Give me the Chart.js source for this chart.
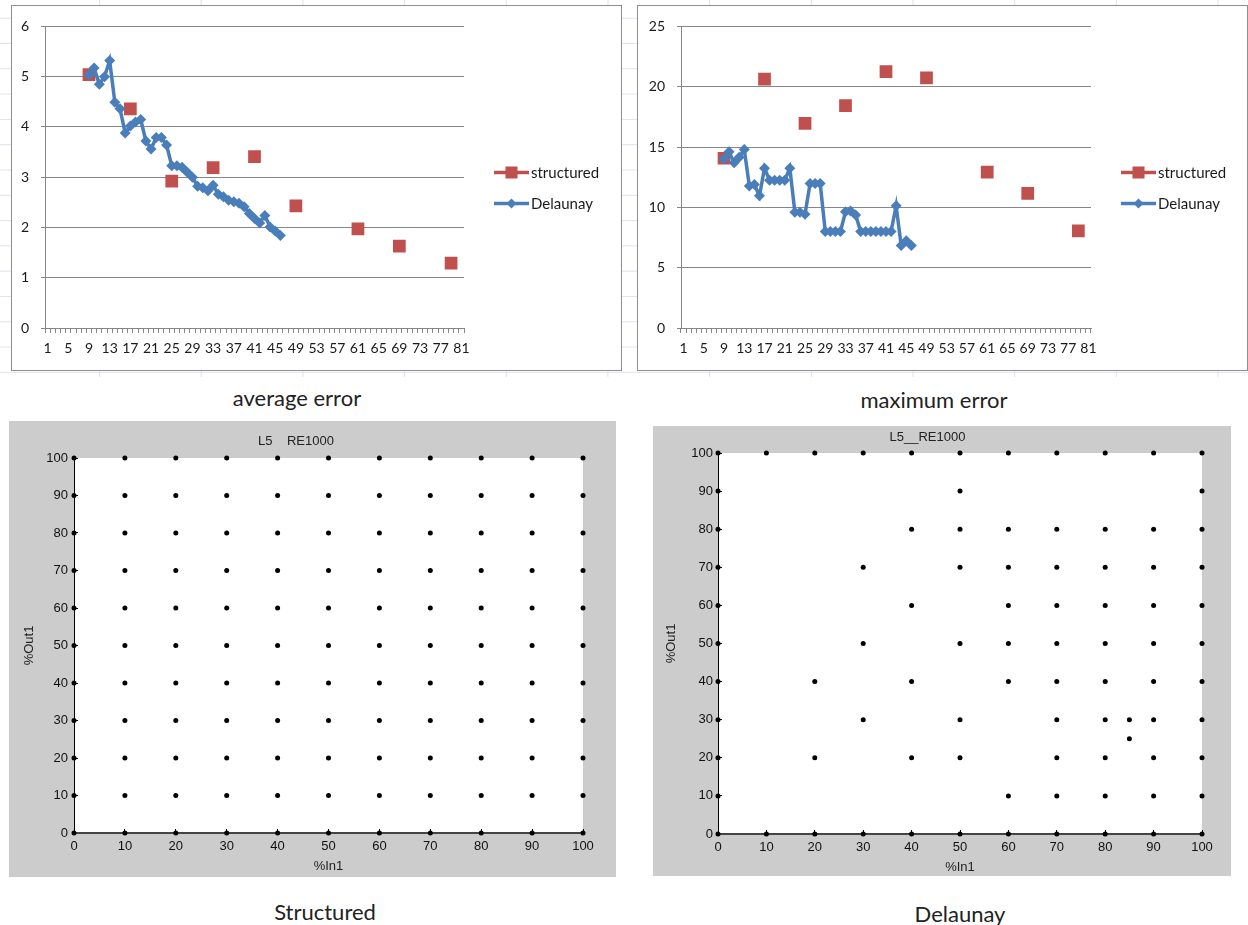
<!DOCTYPE html>
<html>
<head>
<meta charset="utf-8">
<script src="https://cdn.jsdelivr.net/npm/chart.js@4.4.1/dist/chart.umd.min.js"></script>
<style>
html,body{margin:0;padding:0;background:#fff;}
body{width:1248px;height:925px;position:relative;overflow:hidden;font-family:Lato,sans-serif;}
#sheet{position:absolute;left:0;top:0;width:1248px;height:377px;
  background-image:linear-gradient(to right,#dde2ec 1px,transparent 1px),linear-gradient(to bottom,#dde2ec 1px,transparent 1px);
  background-size:101.7px 25.3px;background-position:99px 17.7px;}
.frame{position:absolute;box-sizing:border-box;border:1px solid #8e8e8e;background:#fff;}
.frame .inner{position:absolute;left:0;top:0;right:0;bottom:0;}
.gray{position:absolute;background:#cccccc;}
.cap{position:absolute;font-family:Lato,sans-serif;font-size:22px;color:#222;transform:translate(-50%,-50%);white-space:nowrap;}
</style>
</head>
<body>
<div id="sheet"></div>
<div class="frame" style="left:11px;top:5px;width:611px;height:366px;"><div class="inner"><canvas id="avgChart"></canvas></div></div>
<div class="frame" style="left:637px;top:5px;width:611px;height:366px;"><div class="inner"><canvas id="maxChart"></canvas></div></div>
<div class="cap" style="left:297px;top:397px;">average error</div>
<div class="cap" style="left:934px;top:399px;">maximum error</div>
<div class="gray" style="left:9px;top:421px;width:607px;height:456px;"><canvas id="structGrid"></canvas></div>
<div class="gray" style="left:653px;top:426px;width:578px;height:450px;"><canvas id="delGrid"></canvas></div>
<div class="cap" style="left:325px;top:911px;">Structured</div>
<div class="cap" style="left:960px;top:913px;">Delaunay</div>
<script>
// ---------- data ----------
const categories = [1,2,3,4,5,6,7,8,9,10,11,12,13,14,15,16,17,18,19,20,21,22,23,24,25,26,27,28,29,30,31,32,33,34,35,36,37,38,39,40,41,42,43,44,45,46,47,48,49,50,51,52,53,54,55,56,57,58,59,60,61,62,63,64,65,66,67,68,69,70,71,72,73,74,75,76,77,78,79,80,81];
const xTickLabels = [1,5,9,13,17,21,25,29,33,37,41,45,49,53,57,61,65,69,73,77,81];

const structuredN = [9,17,25,33,41,49,61,69,79];
const structuredAvgError = [5.04,4.36,2.92,3.19,3.41,2.43,1.97,1.63,1.29];
const structuredMaxError = [14.07,20.63,16.97,18.44,21.26,20.74,12.92,11.15,8.06];

const delaunayN = [9,10,11,12,13,14,15,16,17,18,19,20,21,22,23,24,25,26,27,28,29,30,31,32,33,34,35,36,37,38,39,40,41,42,43,44,45,46];
const delaunayAvgError = [5.04,5.17,4.85,5.0,5.32,4.49,4.36,3.88,4.02,4.10,4.15,3.72,3.56,3.79,3.79,3.64,3.23,3.23,3.2,3.1,3.0,2.82,2.79,2.73,2.84,2.66,2.61,2.54,2.51,2.48,2.41,2.28,2.18,2.09,2.24,2.01,1.93,1.84];
const delaunayMaxError = [14.0,14.6,13.7,14.15,14.8,11.78,11.9,10.96,13.25,12.24,12.24,12.24,12.24,13.25,9.59,9.59,9.43,11.97,11.97,11.97,8.0,8.0,8.0,8.0,9.64,9.7,9.37,8.0,8.0,8.0,8.0,8.0,8.0,8.0,10.14,6.83,7.24,6.83];

const structuredGridX = [0,10,20,30,40,50,60,70,80,90,100];
const structuredGridY = [0,10,20,30,40,50,60,70,80,90,100];

const delaunayRowY = [100,90,80,70,60,50,40,30,25,20,10,0];
const delaunayRowX = [
  [0,10,20,30,40,50,60,70,80,90,100],
  [0,50,100],
  [0,40,50,60,70,80,90,100],
  [0,30,50,60,70,80,90,100],
  [0,40,60,70,80,90,100],
  [0,30,50,60,70,80,90,100],
  [0,20,40,60,70,80,90,100],
  [0,30,50,70,80,85,90,100],
  [85],
  [0,20,40,50,70,80,90,100],
  [0,60,70,80,90,100],
  [0,10,20,30,40,50,60,70,80,90,100]
];

// ---------- styles ----------
const RED = '#C0504D';
const BLUE = '#4A7EBB';
const AXIS_GRAY = '#868686';
const EXCEL_FONT = {family:'Lato', size:14};
const MAT_FONT = {family:'Liberation Sans', size:13, weight:'normal'};

Chart.defaults.animation = false;

const excelLegend = {
  id:'excelLegend',
  afterDraw(chart){
    const ctx = chart.ctx;
    const a = chart.chartArea;
    const x0 = a.right + 30;
    const lineW = 35;
    const cy = chart.height / 2;
    const rows = [cy - 15.5, cy + 15.5];
    chart.data.datasets.forEach((ds, i) => {
      const y = rows[i];
      ctx.save();
      ctx.strokeStyle = ds.borderColor;
      ctx.lineWidth = 3.5;
      ctx.beginPath();
      ctx.moveTo(x0, y);
      ctx.lineTo(x0 + lineW, y);
      ctx.stroke();
      ctx.fillStyle = ds.backgroundColor;
      Chart.helpers.drawPoint(ctx, {pointStyle: ds.pointStyle, radius: ds.legendRadius, rotation:0, borderWidth:0}, x0 + lineW/2, y);
      ctx.fillStyle = '#1a1a1a';
      ctx.font = '15px Lato';
      ctx.textBaseline = 'middle';
      ctx.textAlign = 'left';
      ctx.fillText(ds.label, x0 + lineW + 2, y + 1);
      ctx.restore();
    });
  }
};

function excelChart(id, structuredVals, delaunayVals, yMax, yStep, yAxisWidth, padRight) {
  const structuredPts = structuredN.map((n, i) => ({x:n, y:structuredVals[i]}));
  const delaunayPts = delaunayN.map((n, i) => ({x:n, y:delaunayVals[i]}));
  new Chart(document.getElementById(id), {
    type:'line',
    data:{
      labels:categories,
      datasets:[
        {label:'structured', data:structuredPts, showLine:false, order:1,
         borderColor:RED, backgroundColor:RED, borderWidth:3,
         pointStyle:'rect', pointRadius:9, pointBorderWidth:0, legendRadius:8.5},
        {label:'Delaunay', data:delaunayPts, order:0, tension:0,
         borderColor:BLUE, backgroundColor:BLUE, borderWidth:3.5,
         pointStyle:'rectRot', pointRadius:5.5, pointBorderWidth:0, legendRadius:5}
      ]
    },
    options:{
      responsive:true, maintainAspectRatio:false, animation:false,
      layout:{padding:{left:0, top:17, right:padRight, bottom:0}},
      plugins:{legend:{display:false}, tooltip:{enabled:false}},
      scales:{
        x:{
          type:'category', offset:true,
          grid:{offset:true, drawOnChartArea:false, drawTicks:true, tickLength:5, color:AXIS_GRAY},
          border:{display:true, color:AXIS_GRAY},
          ticks:{autoSkip:false, maxRotation:0, minRotation:0, padding:7, font:EXCEL_FONT, color:'#1a1a1a',
            callback:function(v){ const l = this.getLabelForValue(v); return xTickLabels.includes(l) ? String(l) : ''; }},
          afterFit:(s) => { s.height = 42; }
        },
        y:{
          min:0, max:yMax,
          grid:{color:AXIS_GRAY, tickLength:4},
          border:{display:true, color:AXIS_GRAY},
          ticks:{stepSize:yStep, padding:12, font:EXCEL_FONT, color:'#1a1a1a'},
          afterFit:(s) => { s.width = yAxisWidth; }
        }
      }
    },
    plugins:[excelLegend]
  });
}

excelChart('avgChart', structuredAvgError, delaunayAvgError, 6, 1, 33, 157);
excelChart('maxChart', structuredMaxError, delaunayMaxError, 25, 5, 43, 156);

const whiteArea = {
  id:'whiteArea',
  beforeDraw(chart){
    const a = chart.chartArea;
    chart.ctx.save();
    chart.ctx.fillStyle = '#ffffff';
    chart.ctx.fillRect(a.left, a.top, a.right - a.left, a.bottom - a.top);
    chart.ctx.restore();
  }
};

function matlabChart(id, pts, c) {
  new Chart(document.getElementById(id), {
    type:'scatter',
    data:{datasets:[{data:pts, backgroundColor:'#000', borderColor:'#000', pointRadius:2.5, pointBorderWidth:0, clip:false}]},
    options:{
      responsive:true, maintainAspectRatio:false, animation:false,
      layout:{padding:{left:0, top:0, right:c.padRight, bottom:0}},
      plugins:{
        legend:{display:false}, tooltip:{enabled:false},
        title:{display:true, text:c.title, font:MAT_FONT, color:'#222', padding:{top:c.tTop, bottom:c.tBottom}}
      },
      scales:{
        x:{
          type:'linear', min:0, max:100,
          ticks:{stepSize:10, padding:c.xPad, font:MAT_FONT, color:'#111', maxRotation:0},
          grid:{drawOnChartArea:false, drawTicks:true, tickLength:-4, color:'#000'},
          border:{display:true, color:'#444', width:2},
          title:{display:true, text:'%In1', font:MAT_FONT, color:'#222', padding:{top:0, bottom:c.xtBottom}},
          afterFit:(s) => { s.height = c.xh; }
        },
        y:{
          type:'linear', min:0, max:100,
          ticks:{stepSize:10, padding:c.yPad, font:MAT_FONT, color:'#111'},
          grid:{drawOnChartArea:false, drawTicks:true, tickLength:-4, color:'#000'},
          border:{display:true, color:'#000', width:1},
          title:{display:true, text:'%Out1', font:MAT_FONT, color:'#222', padding:{top:c.ytTop, bottom:0}},
          afterFit:(s) => { s.width = c.yw; }
        }
      }
    },
    plugins:[whiteArea]
  });
}

const structuredPoints = [];
structuredGridY.forEach(y => structuredGridX.forEach(x => structuredPoints.push({x, y})));
const delaunayPoints = [];
delaunayRowY.forEach((y, r) => delaunayRowX[r].forEach(x => delaunayPoints.push({x, y})));

matlabChart('structGrid', structuredPoints, {title:'L5    RE1000', padRight:33, tTop:12.2, tBottom:9.2, xh:44, yw:65, xPad:10, yPad:10, xtBottom:3, ytTop:13});
matlabChart('delGrid', delaunayPoints, {title:'L5__RE1000', padRight:29, tTop:3.2, tBottom:8.2, xh:42, yw:65, xPad:10, yPad:9, xtBottom:1, ytTop:11});
</script>
</body>
</html>
